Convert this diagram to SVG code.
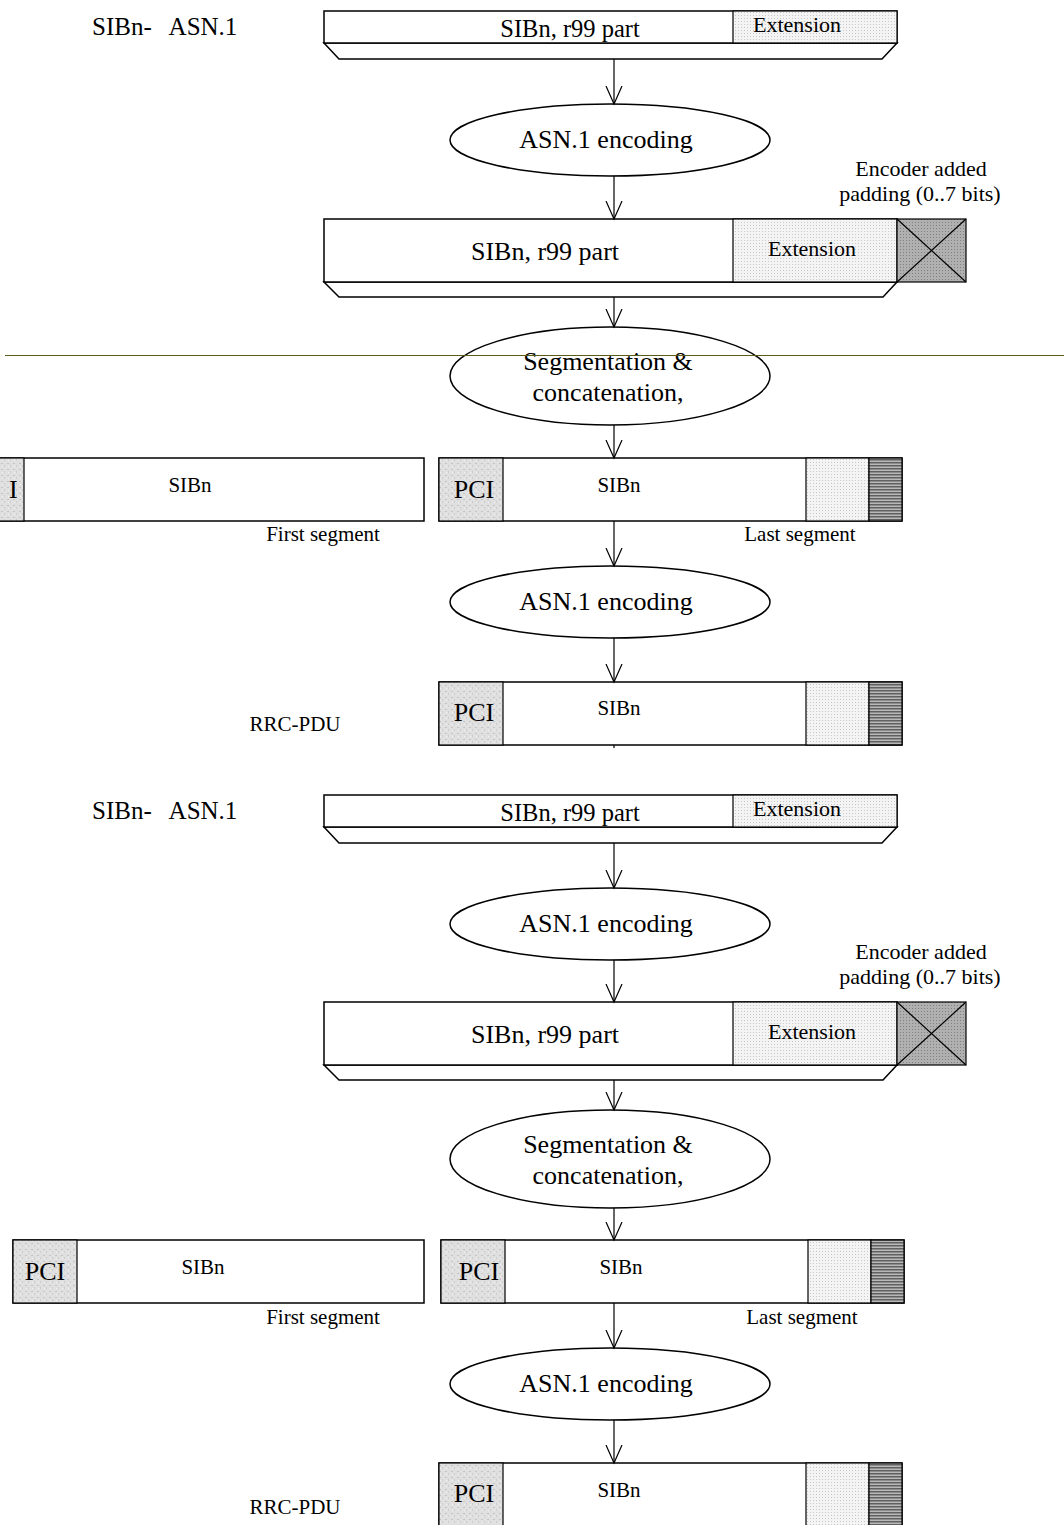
<svg xmlns="http://www.w3.org/2000/svg" width="1064" height="1525" viewBox="0 0 1064 1525">
<defs>
<pattern id="dots" width="3" height="3" patternUnits="userSpaceOnUse"><rect width="3" height="3" fill="#f4f4f4"/><rect width="1" height="1" fill="#c8c8c8"/></pattern>
<pattern id="dark" width="3" height="3" patternUnits="userSpaceOnUse"><rect width="3" height="3" fill="#b0b0b0"/><rect width="1" height="1" fill="#808080"/></pattern>
<pattern id="stripes" width="4" height="3" patternUnits="userSpaceOnUse"><rect width="4" height="3" fill="#b8b8b8"/><rect width="4" height="1.5" fill="#606060"/></pattern>
<pattern id="mottle" width="6" height="6" patternUnits="userSpaceOnUse"><rect width="6" height="6" fill="#e0e0e0"/><rect x="1" y="1" width="2" height="1" fill="#c4c4c4"/><rect x="4" y="3" width="1" height="2" fill="#cccccc"/><rect x="2" y="4" width="1" height="1" fill="#f2f2f2"/></pattern>
<marker id="v" markerWidth="20" markerHeight="20" refX="18" refY="9" orient="auto" markerUnits="userSpaceOnUse"><path d="M0,1 L18,9 L0,17" fill="none" stroke="#000" stroke-width="1.2"/></marker>
</defs>
<style>
.b{fill:#fff;stroke:#000;stroke-width:1.5}
.e{fill:url(#dots);stroke:#000;stroke-width:1.2}
.p{fill:url(#dark);stroke:#000;stroke-width:1.2}
.s{fill:url(#stripes);stroke:#000;stroke-width:1.2}
.m{fill:url(#mottle);stroke:#000;stroke-width:1.2}
.ln{fill:none;stroke:#000;stroke-width:1.2}
.el{fill:#fff;stroke:#000;stroke-width:1.5}
text{font-family:"Liberation Serif","Times New Roman",serif;fill:#000}
.tb{font-size:24.5px}
.tm{font-size:26px}
.ts{font-size:21px}
.tx{font-size:22px}
.tl{font-size:25px;word-spacing:12px}
.c{text-anchor:middle}
</style>

<g id="section1">
<g id="sib-asn1-label"><text class="tl" x="92" y="35">SIBn- ASN.1</text></g>
<g id="top-bar">
<polygon class="b" points="324,43 339,59 882,59 897,43"/>
<rect class="b" x="324" y="11" width="573" height="32"/>
<rect class="e" x="733" y="11" width="164" height="32"/>
<text class="tb c" x="570" y="37">SIBn, r99 part</text>
<text class="tx c" x="797" y="32">Extension</text>
</g>
<g id="enc1"><ellipse class="el" cx="610" cy="140" rx="160" ry="36"/><text class="tm c" x="606" y="148">ASN.1 encoding</text></g>
<g id="padding-label"><text class="tx c" x="921" y="176">Encoder added</text><text class="tx c" x="920" y="201">padding (0..7 bits)</text></g>
<g id="enc-bar">
<polygon class="b" points="324,282 339,297 883,297 897,282"/>
<rect class="b" x="324" y="219" width="573" height="63"/>
<rect class="e" x="733" y="219" width="164" height="63"/>
<rect class="p" x="897" y="219" width="69" height="63"/>
<path class="ln" d="M897,219 L966,282 M966,219 L897,282"/>
<text class="tm c" x="545" y="260">SIBn, r99 part</text>
<text class="tx c" x="812" y="256">Extension</text>
</g>
<g id="seg1"><ellipse class="el" cx="610" cy="376" rx="160" ry="49"/><text class="tm c" x="608" y="370">Segmentation &amp;</text><text class="tm c" x="608" y="401">concatenation,</text></g>
<g id="divider"><line x1="5" y1="355.5" x2="1064" y2="355.5" stroke="#5e5a18" stroke-width="1"/></g>
<g id="first-seg1">
<rect class="b" x="-40" y="458" width="464" height="63"/>
<rect class="m" x="-40" y="458" width="64" height="63"/>
<text class="tm" x="9" y="498">I</text>
<text class="ts c" x="190" y="492">SIBn</text>
<text class="ts c" x="323" y="541">First segment</text>
</g>
<g id="last-seg1">
<rect class="b" x="439" y="458" width="463" height="63"/>
<rect class="m" x="439" y="458" width="64" height="63"/>
<rect class="e" x="806" y="458" width="63" height="63"/>
<rect class="s" x="869" y="458" width="33" height="63"/>
<text class="tm c" x="474" y="498">PCI</text>
<text class="ts c" x="619" y="492">SIBn</text>
<text class="ts c" x="800" y="541">Last segment</text>
</g>
<g id="enc2"><ellipse class="el" cx="610" cy="602" rx="160" ry="36"/><text class="tm c" x="606" y="610">ASN.1 encoding</text></g>
<g id="rrc1">
<rect class="b" x="439" y="682" width="463" height="63"/>
<rect class="m" x="439" y="682" width="64" height="63"/>
<rect class="e" x="806" y="682" width="63" height="63"/>
<rect class="s" x="869" y="682" width="33" height="63"/>
<text class="tm c" x="474" y="721">PCI</text>
<text class="ts c" x="619" y="715">SIBn</text>
<text class="ts c" x="295" y="731">RRC-PDU</text>
</g>
</g>

<g id="section2">
<g id="sib-asn1-label2"><text class="tl" x="92" y="819">SIBn- ASN.1</text></g>
<g id="top-bar2">
<polygon class="b" points="324,827 339,843 882,843 897,827"/>
<rect class="b" x="324" y="795" width="573" height="32"/>
<rect class="e" x="733" y="795" width="164" height="32"/>
<text class="tb c" x="570" y="821">SIBn, r99 part</text>
<text class="tx c" x="797" y="816">Extension</text>
</g>
<g id="enc3"><ellipse class="el" cx="610" cy="924" rx="160" ry="36"/><text class="tm c" x="606" y="932">ASN.1 encoding</text></g>
<g id="padding-label2"><text class="tx c" x="921" y="959">Encoder added</text><text class="tx c" x="920" y="984">padding (0..7 bits)</text></g>
<g id="enc-bar2">
<polygon class="b" points="324,1065 339,1080 883,1080 897,1065"/>
<rect class="b" x="324" y="1002" width="573" height="63"/>
<rect class="e" x="733" y="1002" width="164" height="63"/>
<rect class="p" x="897" y="1002" width="69" height="63"/>
<path class="ln" d="M897,1002 L966,1065 M966,1002 L897,1065"/>
<text class="tm c" x="545" y="1043">SIBn, r99 part</text>
<text class="tx c" x="812" y="1039">Extension</text>
</g>
<g id="seg2"><ellipse class="el" cx="610" cy="1159" rx="160" ry="49"/><text class="tm c" x="608" y="1153">Segmentation &amp;</text><text class="tm c" x="608" y="1184">concatenation,</text></g>
<g id="first-seg2">
<rect class="b" x="13" y="1240" width="411" height="63"/>
<rect class="m" x="13" y="1240" width="64" height="63"/>
<text class="tm c" x="45" y="1280">PCI</text>
<text class="ts c" x="203" y="1274">SIBn</text>
<text class="ts c" x="323" y="1324">First segment</text>
</g>
<g id="last-seg2">
<rect class="b" x="441" y="1240" width="463" height="63"/>
<rect class="m" x="441" y="1240" width="64" height="63"/>
<rect class="e" x="808" y="1240" width="63" height="63"/>
<rect class="s" x="871" y="1240" width="33" height="63"/>
<text class="tm c" x="479" y="1280">PCI</text>
<text class="ts c" x="621" y="1274">SIBn</text>
<text class="ts c" x="802" y="1324">Last segment</text>
</g>
<g id="enc4"><ellipse class="el" cx="610" cy="1384" rx="160" ry="36"/><text class="tm c" x="606" y="1392">ASN.1 encoding</text></g>
<g id="rrc2">
<rect class="b" x="439" y="1463" width="463" height="70"/>
<rect class="m" x="439" y="1463" width="64" height="70"/>
<rect class="e" x="806" y="1463" width="63" height="70"/>
<rect class="s" x="869" y="1463" width="33" height="70"/>
<text class="tm c" x="474" y="1502">PCI</text>
<text class="ts c" x="619" y="1497">SIBn</text>
<text class="ts c" x="295" y="1514">RRC-PDU</text>
</g>
</g>

<g id="connectors">
<line class="ln" x1="614" y1="59" x2="614" y2="104" marker-end="url(#v)"/>
<line class="ln" x1="614" y1="176" x2="614" y2="219" marker-end="url(#v)"/>
<line class="ln" x1="614" y1="297" x2="614" y2="327" marker-end="url(#v)"/>
<line class="ln" x1="614" y1="425" x2="614" y2="458" marker-end="url(#v)"/>
<line class="ln" x1="614" y1="521" x2="614" y2="566" marker-end="url(#v)"/>
<line class="ln" x1="614" y1="638" x2="614" y2="682" marker-end="url(#v)"/>
<line class="ln" x1="614" y1="745" x2="614" y2="748"/>
<line class="ln" x1="614" y1="843" x2="614" y2="888" marker-end="url(#v)"/>
<line class="ln" x1="614" y1="960" x2="614" y2="1002" marker-end="url(#v)"/>
<line class="ln" x1="614" y1="1080" x2="614" y2="1110" marker-end="url(#v)"/>
<line class="ln" x1="614" y1="1208" x2="614" y2="1240" marker-end="url(#v)"/>
<line class="ln" x1="614" y1="1303" x2="614" y2="1348" marker-end="url(#v)"/>
<line class="ln" x1="614" y1="1420" x2="614" y2="1463" marker-end="url(#v)"/>
</g>
</svg>
